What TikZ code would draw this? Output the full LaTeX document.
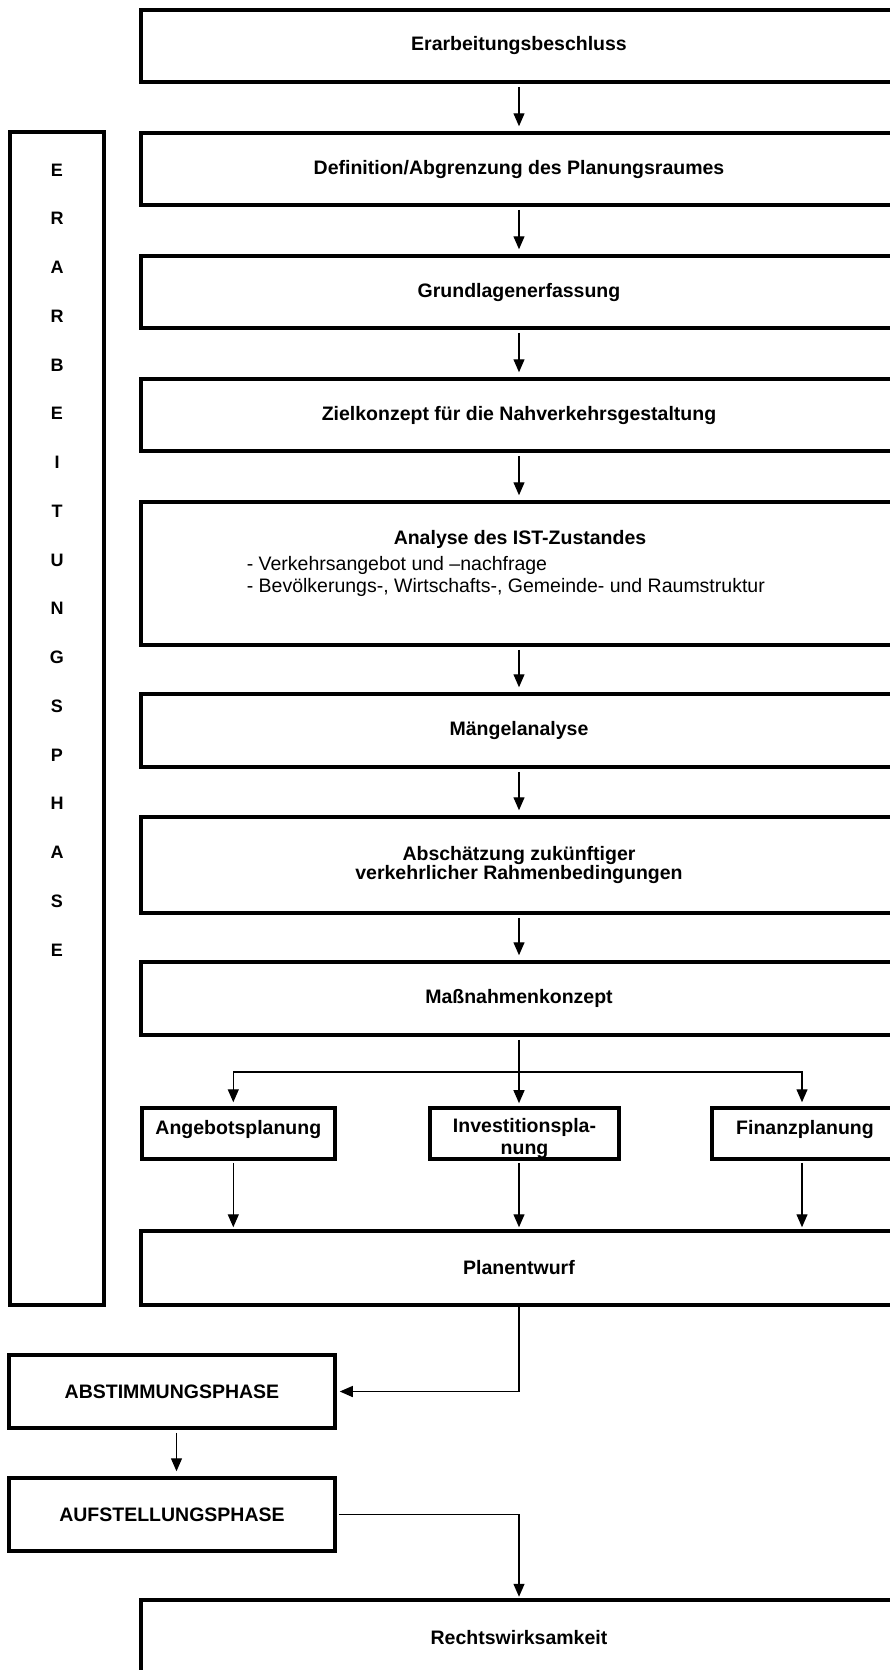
\documentclass[tikz,border=0pt]{standalone}
\usepackage{fontspec}
\setmainfont{Liberation Sans}
\usetikzlibrary{arrows.meta}

\tikzset{
  kasten/.style={draw, line width=3.5pt, minimum width=756pt, minimum height=72pt, inner sep=0pt},
  klein/.style={draw, line width=3.5pt, minimum height=51pt, inner sep=0pt},
  pfeil/.style={line width=1.3pt, -{Triangle[length=13pt,width=11pt]}},
}

\begin{document}
\begin{tikzpicture}[x=1pt,y=-1pt]\tikzstyle{every node} = [align=center, font=\fontsize{19.5pt}{22pt}\selectfont\bf]
      \useasboundingbox (0,0) rectangle (890,1670);

      % Hauptspalte
      \node[kasten] (beschluss)   at (519,46)    {Erarbeitungsbeschluss};
      \node[kasten] (abgrenzung)  at (519,169)   {Definition/Abgrenzung des Planungsraumes};
      \node[kasten] (grundlagen)  at (519,292)   {Grundlagenerfassung};
      \node[kasten] (ziel)        at (519,415)   {Zielkonzept für die Nahverkehrsgestaltung};
      \node[kasten, minimum height=143pt] (analyse) at (519,573.5) {};
      \node (analysekopf) at (520,539) {Analyse des IST-Zustandes};
      \node[anchor=north west, align=left, inner sep=0pt, font=\fontsize{19.5pt}{22.5pt}\selectfont] (analyseliste) at (246.6,556)
            {- Verkehrsangebot und –nachfrage\\- Bevölkerungs-, Wirtschafts-, Gemeinde- und Raumstruktur};
      \node[kasten, minimum height=73pt] (maengel) at (519,730.5) {Mängelanalyse};
      \node[kasten, minimum height=96pt, font=\fontsize{19.5pt}{19.5pt}\selectfont\bf] (abschaetzung) at (519,865)
            {Abschätzung zukünftiger\\verkehrlicher Rahmenbedingungen};
      \node[kasten, minimum height=73pt] (massnahmen) at (519,998.5) {Maßnahmenkonzept};

      % drei Teilplanungen
      \node[klein, minimum width=193pt] (angebot) at (238.3,1133.5) {\rule{0pt}{24pt}Angebotsplanung\\~};
      \node[klein, minimum width=189pt] (invest)  at (524.5,1133.5) {\rule{0pt}{25pt}Investitionspla-\\nung};
      \node[klein, minimum width=186pt] (finanz)  at (805,1133.5)   {\rule{0pt}{24pt}Finanzplanung\\~};

      \node[kasten, minimum height=74pt] (plan) at (519,1268) {Planentwurf};

      % Phasenspalte
      \node[draw, line width=3.5pt, minimum width=94pt, minimum height=1173pt, inner sep=0pt] (phase) at (57,718.5) {};
      \foreach \b [count=\i from 0] in {E,R,A,R,B,E,I,T,U,N,G,S,P,H,A,S,E}
        \node[font=\fontsize{18pt}{20pt}\selectfont\bf] (b\i) at (57,170+48.75*\i) {\b};

      \node[draw, line width=3.5pt, minimum width=326pt, minimum height=73pt] (abstimmung)  at (172,1391.5) {ABSTIMMUNGSPHASE};
      \node[draw, line width=3.5pt, minimum width=326pt, minimum height=73pt] (aufstellung) at (172,1514.5) {AUFSTELLUNGSPHASE};
      \node[kasten, minimum height=76pt] (rechts) at (519,1638) {Rechtswirksamkeit};

      % Pfeile
      \draw[pfeil, shorten <=3pt, shorten >=5pt] (beschluss) -- (abgrenzung);
      \draw[pfeil, shorten <=3pt, shorten >=5pt] (abgrenzung) -- (grundlagen);
      \draw[pfeil, shorten <=3pt, shorten >=5pt] (grundlagen) -- (ziel);
      \draw[pfeil, shorten <=3pt, shorten >=5pt] (ziel) -- (analyse);
      \draw[pfeil, shorten <=3pt, shorten >=5pt] (analyse) -- (maengel);
      \draw[pfeil, shorten <=3pt, shorten >=5pt] (maengel) -- (abschaetzung);
      \draw[pfeil, shorten <=3pt, shorten >=5pt] (abschaetzung) -- (massnahmen);

      \coordinate (gabel) at (519,1072);
      \draw[pfeil, shorten <=3pt, shorten >=3pt] (massnahmen.south) -- (massnahmen.south |- invest.north);
      \draw[pfeil, shorten >=4pt] (gabel) -| ([xshift=-5pt]angebot.north);
      \draw[pfeil, shorten >=4pt] (gabel) -| ([xshift=-3pt]finanz.north);

      \draw[pfeil, shorten <=2pt, shorten >=2pt] ([xshift=-5pt]angebot.south) -- ([xshift=-5pt]angebot.south |- plan.north);
      \draw[pfeil, shorten <=2pt, shorten >=2pt] (invest.south -| plan.north) -- (plan.north);
      \draw[pfeil, shorten <=2pt, shorten >=2pt] ([xshift=-3pt]finanz.south) -- ([xshift=-3pt]finanz.south |- plan.north);

      \draw[pfeil, shorten >=3pt] (plan.south) |- (abstimmung.east);
      \draw[pfeil, shorten <=3pt, shorten >=5pt] ([xshift=4.5pt]abstimmung.south) -- ([xshift=4.5pt]aufstellung.north);
      \draw[pfeil, shorten <=2pt, shorten >=1.5pt] (aufstellung.east) -| (rechts.north);
    \end{tikzpicture}
\end{document}
